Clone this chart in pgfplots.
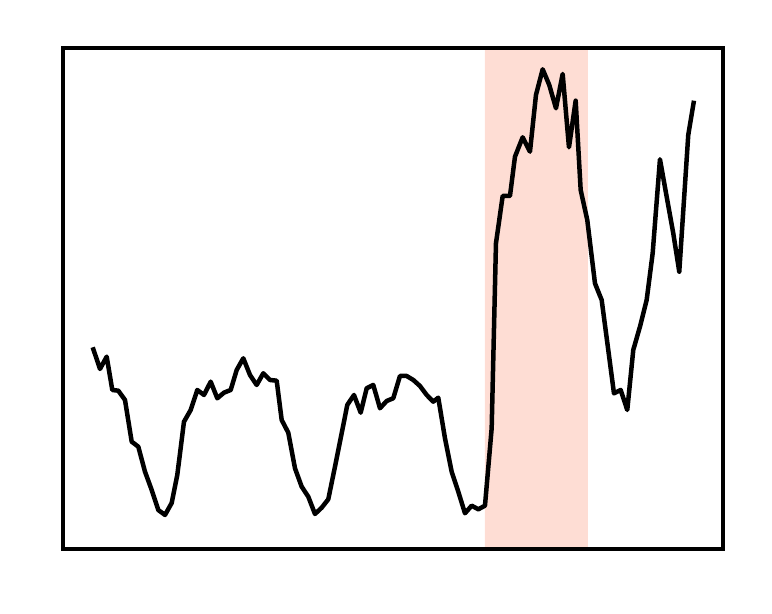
\documentclass[border=0pt]{standalone}
\usepackage{pgfplots}
\pgfplotsset{compat=1.18}
\definecolor{spanred}{RGB}{254,221,212}

\begin{document}
\begin{tikzpicture}[x=0.3pt,y=0.3pt]
% page size of the reference (772 x 614 px)
\path (0,0) rectangle (772,614);
\begin{axis}[
    at={(63,65)}, anchor=south west,
    scale only axis,
    width=198pt, height=150.3pt,
    xmin=63, xmax=723,
    ymin=65, ymax=566,
    xtick=\empty, ytick=\empty,
    axis line style={black, line width=1.25pt},
    axis on top,
    clip=true,
]
% highlighted interval
\addplot[fill=spanred, draw=none] coordinates {
    (485,65) (588,65) (588,566) (485,566)
} \closedcycle;

% signal
\addplot[black, line width=1.35pt, line join=round] coordinates {
    (92.7,266.7) (100,245) (106.7,257.3) (112.3,224) (118.3,223.3)
    (125,214) (131.7,172.3) (138.3,167.3) (145,142.3) (151.7,124)
    (158.3,104) (165,99) (171.7,111) (177.3,139) (184,192.3)
    (190.7,204) (197.3,224) (204,219) (210.7,232.3) (217.3,215.7)
    (224,221.3) (230.7,224) (236.7,244) (243.3,255.7) (250,239)
    (256.7,229) (263.3,240.7) (270,234) (276.7,233.3) (281.7,194)
    (288.3,181.3) (295,145.7) (301.7,127.3) (308.3,117.3) (315,100)
    (321.7,106.3) (328.3,114.7) (335,147.3) (341.7,180.7) (347.3,209)
    (354,219) (360.7,201.3) (366.7,225.7) (373.3,229) (380,205.7)
    (386.7,213) (393.3,215.7) (400,238) (406.7,238) (413.3,234)
    (420,228) (426.7,219) (433.3,212.3) (438.3,216.3) (445,175.7)
    (451.7,142.3) (458.3,122.3) (465,100.7) (471.7,108.3) (478.3,104.7)
    (485,108.3) (491.7,185.7) (496,370.7) (502.7,418) (510,418)
    (515,457.3) (522.7,476.7) (530,462.3) (536,519) (542.7,544.7)
    (549.3,529) (556,505.7) (562.7,540) (569,466.7) (575.7,513.3)
    (580.7,424) (587.3,394) (595,330.7) (601.7,314) (608.3,264)
    (614,220.7) (620.7,224) (627.3,204) (633.3,264) (640,287.3)
    (646.7,314) (652.7,360.7) (660,454.7) (666.7,417.3) (673.3,380.7)
    (679.3,342.3) (688.3,479) (694,513.3)
};
\end{axis}
\end{tikzpicture}
\end{document}
